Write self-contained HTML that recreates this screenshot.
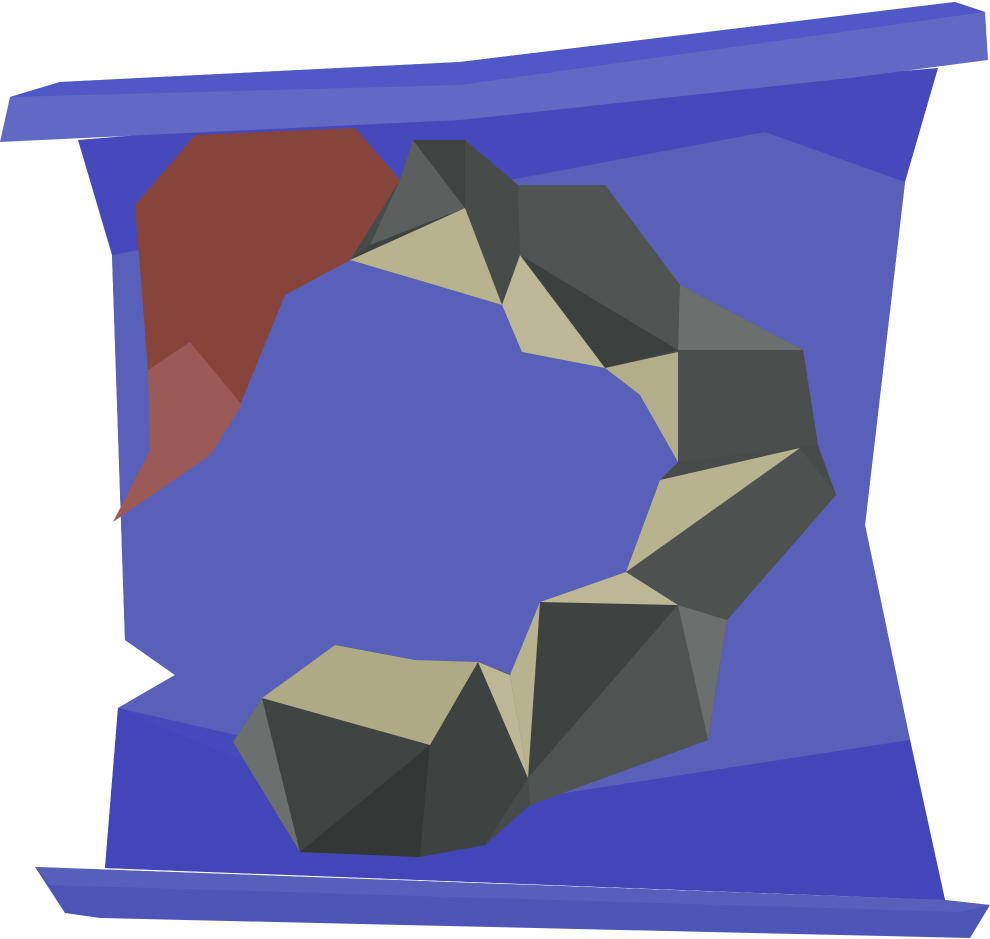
<!DOCTYPE html>
<html><head><meta charset="utf-8"><style>
html,body{margin:0;padding:0;background:#fff;width:990px;height:939px;overflow:hidden}
</style></head><body>
<svg width="990" height="939" viewBox="0 0 990 939">
<g>
<polygon points="78,140 938,68 905,182 865,525 910,740 945,900 105,868 118,708 175,675 125,640 112,255" fill="#4649bb"/>
<polygon points="112,255 765,132 905,182 865,525 910,740 520,800 118,708 175,675 125,640" fill="#5860b9"/>
<polygon points="118,708 240,760 520,800 910,740 945,900 105,868" fill="#4246b8"/>
</g>
<g>
<polygon points="10,97 60,82 460,62 955,2 985,12 988,60 850,78 460,120 0,142" fill="#6069c4"/>
<polygon points="60,82 460,62 955,2 985,12 460,85 10,97" fill="#5058c8"/>
</g>
<g>
<polygon points="35,867 945,900 990,905 970,938 100,918 65,913" fill="#4d56b6"/>
<polygon points="35,867 945,900 990,905 960,912 50,885" fill="#5660bb"/>
</g>
<g>
<polygon points="135,205 195,135 355,128 400,180 350,260 285,295 240,405 190,342 148,370" fill="#86443a"/>
<polygon points="148,370 190,342 242,405 210,455 113,522 150,450" fill="#9b5a55"/>
</g>
<g>
<polygon points="350,260 400,180 413,140 465,140 518,185 605,185 680,285 803,350 818,445 836,495 727,620 708,740 530,805 485,845 420,857 300,852 233,742 262,698 335,645 415,660 478,662 512,675 540,602 626,572 660,480 678,462 678,405 640,395 605,368 522,352 502,305 452,290" fill="#474c4a"/>
<polygon points="518,185 605,185 680,285 678,350 605,368 520,255" fill="#4f5452"/>
<polygon points="520,255 605,368 678,350" fill="#3c403f"/>
<polygon points="400,180 413,140 465,208 370,245" fill="#5a605d"/>
<polygon points="413,140 465,140 465,208" fill="#3f4442"/>
<polygon points="350,260 370,245 465,208" fill="#3f4442"/>
<polygon points="680,285 803,350 678,350" fill="#6a706d"/>
<polygon points="678,350 803,350 818,445 678,462" fill="#4a4f4d"/>
<polygon points="660,480 800,448 836,495 727,620 678,605 626,572" fill="#4d5250"/>
<polygon points="540,602 678,605 528,778" fill="#3e4240"/>
<polygon points="678,605 727,620 708,740 530,805 528,778" fill="#4f5452"/>
<polygon points="678,605 727,620 708,740" fill="#6a706d"/>
<polygon points="233,742 262,698 300,852" fill="#6a706d"/>
<polygon points="262,698 430,745 300,852" fill="#3f4442"/>
<polygon points="300,852 430,745 420,857" fill="#333735"/>
<polygon points="430,745 478,662 528,778 485,845 420,857" fill="#3e4240"/>
<polygon points="350,260 465,208 502,305 452,290" fill="#b8b38f"/>
<polygon points="502,305 520,255 605,368 522,352" fill="#bcb795"/>
<polygon points="605,368 678,352 678,462 640,395" fill="#b3ae8a"/>
<polygon points="660,480 800,448 626,572" fill="#b8b38f"/>
<polygon points="540,602 626,572 678,605" fill="#bcb795"/>
<polygon points="510,675 540,602 528,778" fill="#b8b38f"/>
<polygon points="262,698 335,645 415,660 478,662 430,745" fill="#aeaa86"/>
<polygon points="478,662 510,675 528,778" fill="#bcb795"/>
</g>
</svg>
</body></html>
